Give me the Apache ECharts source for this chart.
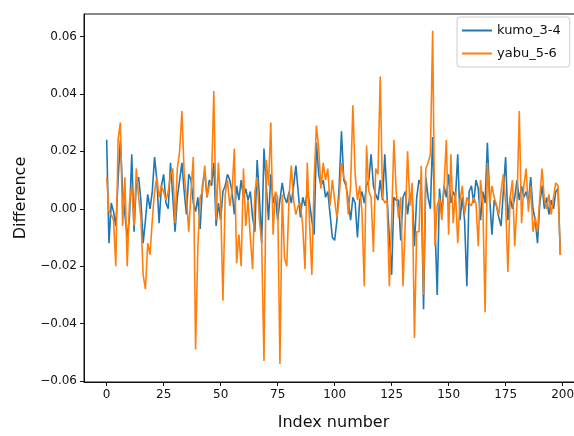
<!DOCTYPE html>
<html>
<head>
<meta charset="utf-8">
<script src="https://cdn.jsdelivr.net/npm/echarts@6/dist/echarts.min.js"></script>
<style>
html,body{margin:0;padding:0;overflow:hidden;background:#fff;}
#chart{width:583px;height:436px;}
</style>
</head>
<body>
<div id="chart"></div>
<script>
const seriesNames = ['kumo_3-4', 'yabu_5-6'];
const xTicks = [0, 25, 50, 75, 100, 125, 150, 175, 200];
const yTicks = [-0.06, -0.04, -0.02, 0.00, 0.02, 0.04, 0.06];

const kumo = [
 0.024,-0.012,0.002,-0.001,-0.006,0.010,0.024,0.006,-0.002,-0.010,
 -0.003,0.019,-0.008,0.009,0.011,0.003,-0.012,-0.004,0.005,0.000,
 0.006,0.018,0.010,-0.005,0.008,0.012,0.002,0.000,0.016,0.004,
 -0.008,0.004,0.010,0.016,0.006,-0.002,0.012,0.010,0.002,-0.001,
 0.004,-0.007,0.008,0.013,0.004,0.010,0.008,0.016,-0.006,0.002,
 -0.004,0.006,0.008,0.012,0.010,0.006,-0.002,0.008,0.003,0.010,
 0.004,0.007,0.003,0.006,-0.003,-0.008,0.017,0.004,-0.012,0.021,
 0.008,-0.004,0.012,0.002,0.005,-0.004,0.003,0.009,0.004,0.002,
 0.006,0.002,0.008,0.015,0.006,-0.003,0.004,0.001,0.006,0.002,
 -0.004,-0.009,0.023,0.012,0.008,0.010,0.004,0.006,-0.002,-0.010,
 -0.011,-0.004,0.008,0.027,0.010,0.008,0.003,-0.004,0.004,0.002,
 -0.010,0.003,0.006,0.002,0.008,0.010,0.019,0.008,0.005,0.003,
 0.010,0.003,0.019,0.004,-0.010,-0.023,0.004,0.003,0.003,-0.011,
 0.004,0.006,-0.002,0.005,0.005,-0.013,0.004,0.010,0.008,-0.035,
 0.011,0.004,0.000,0.025,-0.005,-0.030,0.007,-0.002,0.008,0.004,
 0.012,0.002,0.006,0.004,0.019,-0.004,0.004,-0.004,-0.027,0.006,
 0.008,0.002,0.010,0.007,-0.004,0.006,0.002,0.023,0.004,-0.009,
 0.003,0.001,-0.003,-0.006,0.006,0.018,-0.004,0.004,0.000,0.004,
 0.010,0.003,0.008,0.004,0.006,0.002,0.011,0.000,-0.004,-0.012,
 0.002,0.008,0.000,0.004,-0.002,0.003,0.000,0.006,0.007,-0.016
];

const yabu = [
 0.011,-0.001,-0.002,-0.004,-0.020,0.024,0.030,-0.006,0.011,-0.020,
 0.002,0.008,-0.006,0.014,0.004,-0.003,-0.023,-0.028,-0.012,-0.016,
 -0.004,0.006,0.011,0.004,0.008,0.006,0.003,0.006,0.012,0.014,
 -0.005,0.014,0.020,0.034,0.012,0.004,-0.008,0.006,0.018,-0.049,
 -0.013,0.004,0.006,0.015,0.004,0.008,0.010,0.041,-0.004,0.016,
 0.002,-0.032,0.005,0.010,0.001,0.006,0.021,-0.019,-0.009,-0.020,
 0.014,-0.006,0.003,-0.010,-0.021,0.006,0.011,-0.004,-0.012,-0.053,
 0.017,0.008,0.030,-0.009,0.006,0.004,-0.054,0.005,-0.017,-0.020,
 0.004,0.015,0.003,-0.002,0.001,0.002,-0.006,-0.021,0.016,-0.005,
 -0.023,0.010,0.029,0.021,0.007,0.016,0.010,0.014,0.001,0.010,
 0.003,-0.003,0.004,0.016,0.011,0.009,-0.002,0.008,0.036,0.012,
 0.003,0.008,-0.001,-0.027,0.022,0.006,0.004,-0.015,0.014,0.012,
 0.046,0.004,0.002,0.003,-0.027,-0.004,0.024,0.006,-0.003,0.004,
 -0.027,-0.004,0.020,0.001,0.009,-0.045,-0.008,-0.008,0.015,-0.030,
 0.014,0.016,0.019,0.062,-0.013,0.001,0.004,-0.004,0.008,0.024,
 -0.009,0.019,-0.005,0.006,-0.012,0.003,0.008,-0.002,0.004,0.002,
 0.001,0.004,0.002,-0.013,0.010,0.002,-0.036,0.016,0.002,0.008,
 0.004,0.001,-0.002,0.006,0.012,0.002,-0.022,0.004,0.010,-0.013,
 0.002,0.034,-0.005,0.008,0.014,-0.001,0.008,-0.008,-0.003,-0.008,
 0.004,0.014,0.003,0.000,0.005,-0.002,0.004,0.009,0.008,-0.016
];

const toPairs = arr => arr.map((v, i) => [i, v]);
const fmtY = v => (v < 0 ? '\u2212' : '') + Math.abs(v).toFixed(2);
const FONT = 'DejaVu Sans';

const chart = echarts.init(document.getElementById('chart'), null, {renderer: 'canvas'});
chart.setOption({
  animation: false,
  backgroundColor: '#fff',
  color: ['#1f77b4', '#ff7f0e'],
  grid: {left: 84, top: 14, right: 0, bottom: 51, show: true, borderColor: '#111', borderWidth: 1, backgroundColor: 'transparent'},
  legend: {
    data: seriesNames,
    orient: 'vertical',
    left: 457, top: 17,
    icon: 'rect', itemWidth: 30, itemHeight: 2,
    itemGap: 10,
    backgroundColor: '#fff', borderColor: '#ccc', borderWidth: 1, borderRadius: 3,
    padding: [7, 9, 7, 5],
    textStyle: {fontFamily: FONT, fontSize: 13, color: '#111'}
  },
  xAxis: {
    type: 'value', min: -9.95, max: 208.95,
    name: 'Index number', nameLocation: 'middle', nameGap: 33,
    nameTextStyle: {fontFamily: FONT, fontSize: 16, color: '#111'},
    axisLine: {show: true, onZero: false, lineStyle: {color: '#111', width: 1}},
    axisTick: {show: true, length: 4, customValues: xTicks, lineStyle: {color: '#111'}},
    axisLabel: {customValues: xTicks, fontFamily: FONT, fontSize: 12, color: '#111', margin: 7},
    splitLine: {show: false}
  },
  yAxis: {
    type: 'value', min: -0.0603, max: 0.0678,
    name: 'Difference', nameLocation: 'middle', nameGap: 53,
    nameTextStyle: {fontFamily: FONT, fontSize: 16, color: '#111'},
    axisLine: {show: true, onZero: false, lineStyle: {color: '#111', width: 1}},
    axisTick: {show: true, length: 4, customValues: yTicks, lineStyle: {color: '#111'}},
    axisLabel: {customValues: yTicks, formatter: fmtY, fontFamily: FONT, fontSize: 12, color: '#111', margin: 7},
    splitLine: {show: false}
  },
  series: [
    {name: seriesNames[0], type: 'line', data: toPairs(kumo), showSymbol: false, lineStyle: {width: 1.6}, z: 2},
    {name: seriesNames[1], type: 'line', data: toPairs(yabu), showSymbol: false, lineStyle: {width: 1.6}, z: 3}
  ]
});
</script>
</body>
</html>
